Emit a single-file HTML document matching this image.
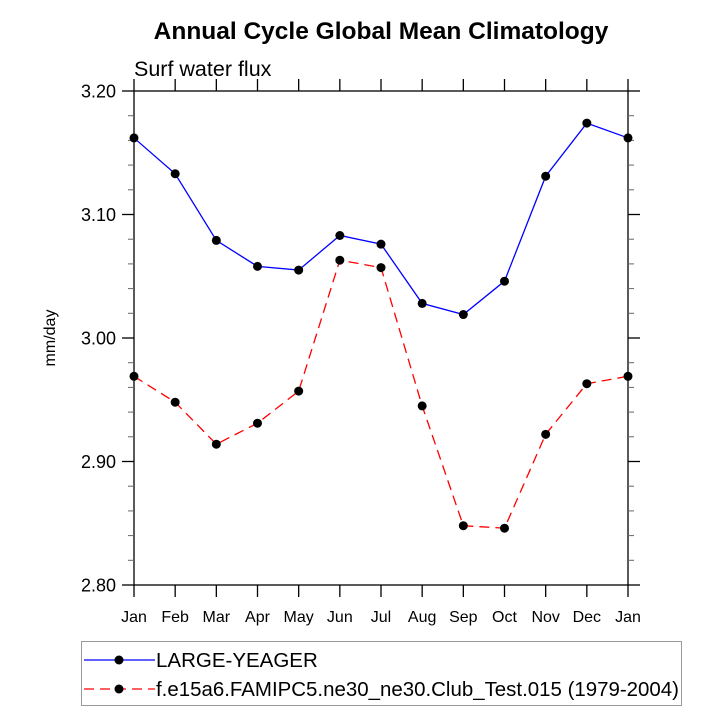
<!DOCTYPE html>
<html><head><meta charset="utf-8"><style>body{margin:0;background:#fff}svg{display:block;font-family:"Liberation Sans",Arial,sans-serif}</style></head>
<body>
<svg id="chart" width="727" height="727" viewBox="0 0 727 727">
<text x="381" y="39" text-anchor="middle" font-size="24.5" font-weight="bold">Annual Cycle Global Mean Climatology</text>
<text x="134" y="76" font-size="21.5">Surf water flux</text>
<text transform="translate(55,338) rotate(-90)" text-anchor="middle" font-size="16">mm/day</text>
<g id="axes"></g>
<g id="series"></g>
<g id="legend">
<rect x="81.5" y="641.5" width="600" height="64" fill="#fff" stroke="#999"/>
<g>
<line x1="84" y1="660" x2="155" y2="660" stroke="#0000ff" stroke-width="1.3"/>
<circle cx="119" cy="660" r="4.5" fill="#000"/>
<text x="156" y="667" font-size="20.5">LARGE-YEAGER</text></g>
<g>
<line x1="84" y1="689" x2="155" y2="689" stroke="#ff0000" stroke-width="1.3" stroke-dasharray="10,6"/>
<circle cx="119" cy="689" r="4.5" fill="#000"/>
<text x="156" y="696" font-size="20.5" textLength="523" lengthAdjust="spacingAndGlyphs">f.e15a6.FAMIPC5.ne30_ne30.Club_Test.015 (1979-2004)</text></g>
</g>
</svg>
<script>
const months = ["Jan","Feb","Mar","Apr","May","Jun","Jul","Aug","Sep","Oct","Nov","Dec","Jan"];
const largeYeager = [3.162,3.133,3.079,3.058,3.055,3.083,3.076,3.028,3.019,3.046,3.131,3.174,3.162];
const famipc5 = [2.969,2.948,2.914,2.931,2.957,3.063,3.057,2.945,2.848,2.846,2.922,2.963,2.969];
const yTicks = [2.80,2.90,3.00,3.10,3.20];
const yTickLabels = ["2.80","2.90","3.00","3.10","3.20"];

const L=134,R=628,T=91,B=585,yMin=2.80,yMax=3.20;
const xs=i=>L+(R-L)*i/(months.length-1);
const ys=v=>B-(B-T)*(v-yMin)/(yMax-yMin);
const NS="http://www.w3.org/2000/svg";
function mk(tag,attrs,parent){const e=document.createElementNS(NS,tag);for(const k in attrs)e.setAttribute(k,attrs[k]);parent.appendChild(e);return e;}
const ax=document.getElementById('axes');
const frame=mk('rect',{x:L,y:T,width:R-L,height:B-T,fill:'none',stroke:'#000','stroke-width':1.3},ax);


for(let v=yMin;v<=yMax+1e-9;v+=0.02){const y=ys(v);
 mk('line',{x1:L-6,y1:y,x2:L,y2:y,stroke:'#666'},ax);
 mk('line',{x1:R,y1:y,x2:R+6,y2:y,stroke:'#666'},ax);}
yTicks.forEach((v,i)=>{const y=ys(v);
 mk('line',{x1:L-12,y1:y,x2:L,y2:y,stroke:'#000','stroke-width':1.3},ax);
 mk('line',{x1:R,y1:y,x2:R+12,y2:y,stroke:'#000','stroke-width':1.3},ax);
 const t=mk('text',{x:L-18,y:y+6.5,'text-anchor':'end','font-size':18},ax);t.textContent=yTickLabels[i];
 
 });
months.forEach((m,i)=>{const x=xs(i);
 mk('line',{x1:x,y1:B,x2:x,y2:B+12,stroke:'#000','stroke-width':1.3},ax);
 mk('line',{x1:x,y1:T-12,x2:x,y2:T,stroke:'#000','stroke-width':1.3},ax);
 const t=mk('text',{x:x,y:B+37,'text-anchor':'middle','font-size':16},ax);t.textContent=m;
 
 });
const sg=document.getElementById('series');
function series(vals,color,dash,name){
 const g=mk('g',{},sg);
 
 
 const p=mk('polyline',{points:vals.map((v,i)=>xs(i)+','+ys(v)).join(' '),fill:'none',stroke:color,'stroke-width':1.3},g);
 if(dash)p.setAttribute('stroke-dasharray',dash);
 vals.forEach((v,i)=>{const c=mk('circle',{cx:xs(i),cy:ys(v),r:4.5,fill:'#000'},g);
  
  });
}
series(largeYeager,'#0000ff',null,'series-large-yeager');
series(famipc5,'#ff0000','10,6','series-famipc5');
</script>
</body></html>
